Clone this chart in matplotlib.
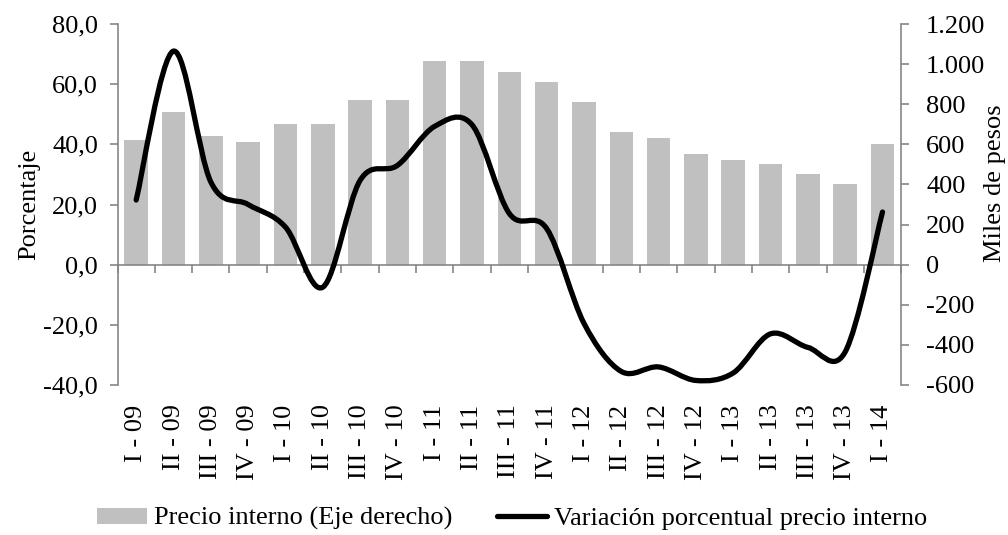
import numpy as np
import matplotlib
matplotlib.use("Agg")
import matplotlib.pyplot as plt
from matplotlib.path import Path
from matplotlib.patches import PathPatch, Patch
from matplotlib.lines import Line2D
from matplotlib.ticker import FuncFormatter

# quarters I-09 .. I-14
quarters = ["I - 09", "II - 09", "III - 09", "IV - 09",
            "I - 10", "II - 10", "III - 10", "IV - 10",
            "I - 11", "II - 11", "III - 11", "IV - 11",
            "I - 12", "II - 12", "III - 12", "IV - 12",
            "I - 13", "II - 13", "III - 13", "IV - 13",
            "I - 14"]

# precio interno, miles de pesos (eje derecho)
precio = [620, 760, 640, 610, 700, 700, 820, 820, 1015, 1015, 960,
          910, 810, 660, 630, 550, 520, 500, 450, 400, 600]

# variacion porcentual (eje izquierdo)
variacion = [21.5, 71.0, 27.5, 20.0, 12.5, -7.5, 28.0, 33.0, 46.0, 46.5, 17.0,
             12.0, -19.5, -35.5, -34.0, -38.5, -36.0, -23.0, -27.5, -29.0, 17.5]

plt.rcParams["font.family"] = "Liberation Serif"
plt.rcParams["font.size"] = 19

GRAY = "#868686"
BAR = "#C0C0C0"


def smooth_path(xs, ys):
    # excel-like smoothed line: catmull-rom as cubic bezier
    pts = np.column_stack([xs, ys]).astype(float)
    ext = np.vstack([pts[0], pts, pts[-1]])
    verts = [pts[0]]
    codes = [Path.MOVETO]
    for i in range(len(pts) - 1):
        p0, p1, p2, p3 = ext[i], ext[i + 1], ext[i + 2], ext[i + 3]
        verts += [p1 + (p2 - p0) / 6, p2 - (p3 - p1) / 6, p2]
        codes += [Path.CURVE4] * 3
    return Path(verts, codes)


fig = plt.figure(figsize=(10.08, 5.35), dpi=100)
ax = fig.add_axes([0.1166, 0.2804, 0.7774, 0.6747])
ax2 = ax.twinx()

x = np.arange(len(quarters))

ax2.bar(x, precio, width=0.63, color=BAR, zorder=1)
ax2.set_ylim(-600, 1200)
ax2.set_yticks(np.arange(-600, 1201, 200))
ax2.yaxis.set_major_formatter(FuncFormatter(lambda v, p: f"{int(v):,}".replace(",", ".")))
ax2.set_ylabel("Miles de pesos")
ax2.yaxis.set_label_coords(1.106, 0.56)

line = PathPatch(smooth_path(x, variacion), facecolor="none", edgecolor="black",
                 lw=3.8, capstyle="round", joinstyle="round", zorder=3)
ax.add_patch(line)
ax.set_ylim(-40, 80)
ax.set_yticks(np.arange(-40, 81, 20))
ax.yaxis.set_major_formatter(FuncFormatter(lambda v, p: f"{v:.1f}".replace(".", ",")))
ax.set_ylabel("Porcentaje", labelpad=2)

ax.set_xlim(-0.5, len(quarters) - 0.5)
ax.set_xticks(x)
ax.set_xticklabels(quarters)
ax.set_xticks(np.arange(-0.5, len(quarters)), minor=True)

# line axes above bars
ax.set_zorder(ax2.get_zorder() + 1)
ax.patch.set_visible(False)

for a in (ax, ax2):
    for s in a.spines.values():
        s.set_color(GRAY)
        s.set_linewidth(1.2)
    a.spines["top"].set_visible(False)

ax.spines["right"].set_visible(False)
ax.spines["bottom"].set_position(("data", 0))
ax2.spines["left"].set_visible(False)
ax2.spines["bottom"].set_visible(False)

ax.tick_params(axis="y", direction="out", length=6, width=1.2, color=GRAY, pad=8)
ax2.tick_params(axis="y", direction="out", length=6, width=1.2, color=GRAY, pad=12)
ax.tick_params(axis="x", which="major", length=0, labelbottom=False)
ax.tick_params(axis="x", which="minor", direction="out", length=6, width=1.2, color=GRAY)

ax2.xaxis.set_visible(True)
ax2.tick_params(axis="x", which="both", length=0, labelbottom=True, pad=14)
for lab in ax2.get_xticklabels():
    lab.set_rotation(90)

handles = [Patch(facecolor=BAR, edgecolor="none"),
           Line2D([], [], color="black", lw=3.8, solid_capstyle="round")]
fig.legend(handles, ["Precio interno (Eje derecho)", "Variación porcentual precio interno"],
           loc="center", bbox_to_anchor=(0.508, 0.03), ncol=2, frameon=False,
           handlelength=1.9, handleheight=0.55, handletextpad=0.25, columnspacing=1.7,
           borderpad=0, borderaxespad=0)

fig.savefig("out.png", dpi=100)
